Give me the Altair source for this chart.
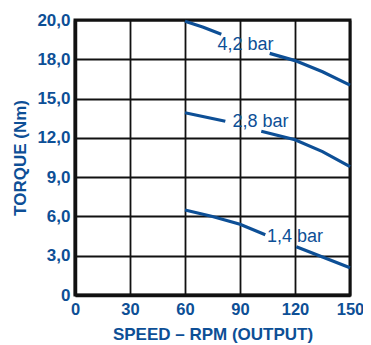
import altair as alt
import pandas as pd

BLUE = "#0d4f96"

# curve points (speed rpm, torque Nm); segments broken where labels sit
s42_a_x = [60, 70, 79.8]
s42_a_y = [20.9, 20.45, 19.92]
s42_b_x = [106.2, 120, 135, 150]
s42_b_y = [18.45, 17.9, 17.05, 16.03]

s28_a_x = [60, 82]
s28_a_y = [13.92, 13.27]
s28_b_x = [101.6, 120, 135, 150]
s28_b_y = [12.5, 11.85, 10.95, 9.8]

s14_a_x = [60, 75, 90, 103.8]
s14_a_y = [6.49, 6.0, 5.4, 4.6]
s14_b_x = [120.7, 135, 150]
s14_b_y = [3.69, 2.9, 2.08]

labels = ["4,2 bar", "2,8 bar", "1,4 bar"]
label_x = [93, 101.2, 120]
label_y = [19.1, 13.2, 4.45]

x_ticks = [0, 30, 60, 90, 120, 150]
y_ticks = [0, 3, 6, 9, 12, 15, 18, 21]

rows = []
for seg, xs, ys in [
    ("42a", s42_a_x, s42_a_y), ("42b", s42_b_x, s42_b_y),
    ("28a", s28_a_x, s28_a_y), ("28b", s28_b_x, s28_b_y),
    ("14a", s14_a_x, s14_a_y), ("14b", s14_b_x, s14_b_y),
]:
    for i, (x, y) in enumerate(zip(xs, ys)):
        rows.append({"seg": seg, "x": x, "y": y, "o": i})
df = pd.DataFrame(rows)
lab = pd.DataFrame({"t": labels, "x": label_x, "y": label_y})

FONT = "Liberation Sans"

xenc = alt.X("x:Q", scale=alt.Scale(domain=[0, 150], nice=False),
             axis=alt.Axis(values=x_ticks, title="SPEED – RPM (OUTPUT)", grid=True,
                           gridColor="#111", gridWidth=1.8, domainColor="#111", domainWidth=3.5,
                           ticks=False, labelPadding=6, labelFont=FONT, labelFontSize=16.5,
                           labelFontWeight="bold", labelColor=BLUE, titleFont=FONT,
                           titleFontSize=17, titleFontWeight="bold", titleColor=BLUE,
                           titlePadding=9, labelOverlap=False, labelFlush=False))
yenc = alt.Y("y:Q", scale=alt.Scale(domain=[0, 21], nice=False),
             axis=alt.Axis(values=y_ticks, title="TORQUE (Nm)", grid=True,
                           gridColor="#111", gridWidth=1.8, domainColor="#111", domainWidth=3.5,
                           ticks=False, labelPadding=5, labelFont=FONT, labelFontSize=17,
                           labelFontWeight="bold", labelColor=BLUE, titleFont=FONT,
                           titleFontSize=17, titleFontWeight="bold", titleColor=BLUE,
                           titlePadding=7, labelOverlap=False, labelFlush=False,
                           labelExpr="datum.value == 21 ? '20,0' : datum.value == 0 ? '0' : replace(format(datum.value, '.1f'), '.', ',')"))

lines = alt.Chart(df).mark_line(color=BLUE, strokeWidth=3.2).encode(
    x=xenc, y=yenc, detail="seg:N", order="o:Q")

texts = alt.Chart(lab).mark_text(color=BLUE, font=FONT, fontSize=18, fontWeight="normal").encode(
    x=xenc, y=yenc, text="t:N")

chart = alt.layer(lines, texts).properties(
    width=275, height=275,
    autosize=alt.AutoSizeParams(type="none"),
    padding={"left": 67, "top": 12, "right": 13, "bottom": 50},
).configure_view(stroke="#111", strokeWidth=3)

chart.save("out.html", embed_options={"renderer": "svg", "actions": False})
